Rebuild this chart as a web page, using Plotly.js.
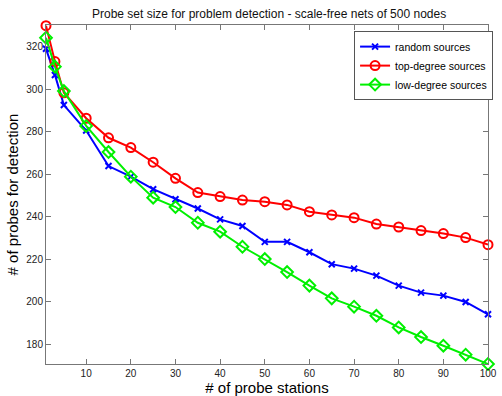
<!DOCTYPE html>
<html>
<head>
<meta charset="utf-8">
<script src="https://cdn.plot.ly/plotly-3.0.1.min.js"></script>
<style>html,body{margin:0;padding:0;background:#fff;}#chart{width:502px;height:396px;}</style>
</head>
<body>
<div id="chart"></div>
<script>
const probeStations = [1, 3, 5, 10, 15, 20, 25, 30, 35, 40, 45, 50, 55, 60, 65, 70, 75, 80, 85, 90, 95, 100];
const randomSources = [319, 306.7, 292.5, 280.5, 263.8, 258.8, 252.9, 248.2, 243.8, 238.7, 235.6, 228.1, 228.1, 223.2, 217.6, 215.5, 212.2, 207.5, 204.2, 202.8, 199.8, 194];
const topDegreeSources = [329.9, 313, 298.3, 286.3, 277.1, 272.5, 265.6, 258.0, 251.3, 249.4, 247.8, 247.0, 245.5, 242.3, 240.8, 239.5, 236.5, 235.1, 233.4, 232.0, 230.1, 226.8];
const lowDegreeSources = [324.2, 310.6, 299.1, 282.7, 270.4, 258.8, 248.9, 244.5, 237.1, 232.9, 225.8, 220.0, 213.9, 207.5, 201.5, 197.6, 193.3, 187.8, 183.3, 179.2, 175.0, 170.6];
const seriesNames = ['random sources', 'top-degree sources', 'low-degree sources'];
const xTicks = [10, 20, 30, 40, 50, 60, 70, 80, 90, 100];
const yTicks = [180, 200, 220, 240, 260, 280, 300, 320];

const traces = [
  {x: probeStations, y: randomSources, name: seriesNames[0], mode: 'lines+markers', cliponaxis: false,
   line: {color: '#0000ff', width: 2}, marker: {symbol: 'x-thin-open', size: 6, color: '#0000ff', line: {color: '#0000ff', width: 2}}},
  {x: probeStations, y: topDegreeSources, name: seriesNames[1], mode: 'lines+markers', cliponaxis: false,
   line: {color: '#ff0000', width: 2}, marker: {symbol: 'circle-open', size: 9, color: '#ff0000', line: {color: '#ff0000', width: 2}}},
  {x: probeStations, y: lowDegreeSources, name: seriesNames[2], mode: 'lines+markers', cliponaxis: false,
   line: {color: '#00f000', width: 2}, marker: {symbol: 'diamond-open', size: 9, color: '#00f000', line: {color: '#00f000', width: 2}}}
];

const axisCommon = {
  showline: true, linecolor: '#777', linewidth: 1, mirror: 'ticks',
  ticks: 'inside', ticklen: 5, tickcolor: '#777', showgrid: false, zeroline: false,
  tickfont: {family: 'Arial, Liberation Sans, sans-serif', size: 10, color: '#222'}
};

const layout = {
  width: 502, height: 396,
  margin: {l: 46, r: 9, t: 25, b: 32},
  paper_bgcolor: '#fff', plot_bgcolor: '#fff',
  font: {family: 'Arial, Liberation Sans, sans-serif', color: '#000'},
  title: {text: 'Probe set size for problem detection - scale-free nets of 500 nodes',
          font: {size: 12, color: '#111'}, x: 0.536, xanchor: 'center', y: 0.965, yanchor: 'middle'},
  xaxis: Object.assign({}, axisCommon, {range: [1, 100], tickvals: xTicks,
    title: {text: '# of probe stations', font: {size: 15}, standoff: 4}}),
  yaxis: Object.assign({}, axisCommon, {range: [170.6, 330.2], tickvals: yTicks,
    title: {text: '# of probes for detection', font: {size: 15}, standoff: 4}}),
  showlegend: true,
  legend: {x: 0.697, y: 0.982, xanchor: 'left', yanchor: 'top', bgcolor: '#fff',
    bordercolor: '#555', borderwidth: 1, font: {size: 10.5, color: '#000'},
    tracegroupgap: 0, itemwidth: 30}
};

Plotly.newPlot('chart', traces, layout, {displayModeBar: false, staticPlot: true});
</script>
</body>
</html>
